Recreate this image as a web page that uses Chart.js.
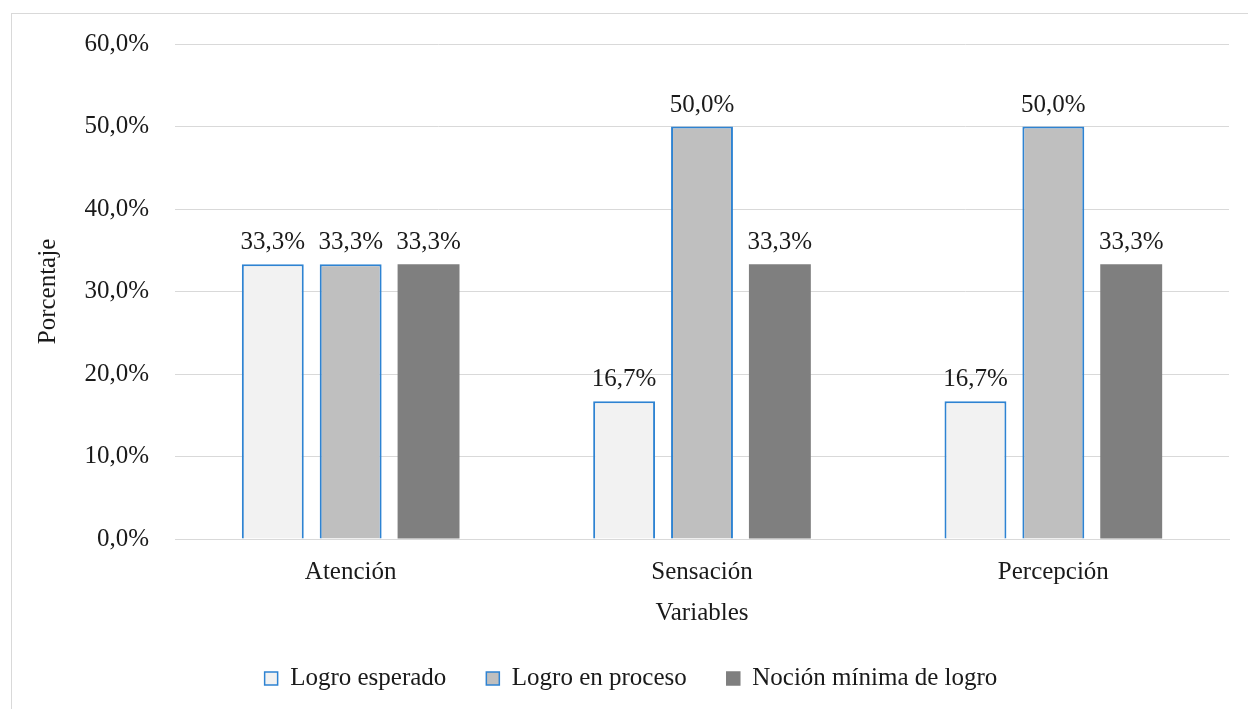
<!DOCTYPE html>
<html>
<head>
<meta charset="utf-8">
<script src="https://cdn.jsdelivr.net/npm/chart.js@4/dist/chart.umd.min.js"></script>
<style>
    html, body { margin: 0; padding: 0; background: #fff; }
    #wrap { width: 1248px; height: 709px; position: relative; }
</style>
</head>
<body>
<div id="wrap"><canvas id="barChart" width="1248" height="709"></canvas></div>
<script>
const categories = ['Atención', 'Sensación', 'Percepción'];
const seriesNames = ['Logro esperado', 'Logro en proceso', 'Noción mínima de logro'];
const logroEsperado = [33.3, 16.7, 16.7];
const logroProceso = [33.3, 50.0, 50.0];
const nocionMinima = [33.3, 33.3, 33.3];
const yTicks = [0, 10, 20, 30, 40, 50, 60];

const fillColors = ['#f2f2f2', '#bfbfbf', '#7f7f7f'];
const edgeColors = ['#2e83d2', '#2e83d2', '#7f7f7f'];
const serif = "'Liberation Serif', 'Times New Roman', serif";
const fontSize = 25;

const fmt = v => v.toFixed(1).replace('.', ',') + '%';

const frame = {
    id: 'frame',
    beforeDraw(chart) {
        const ctx = chart.ctx;
        ctx.save();
        ctx.fillStyle = '#fff';
        ctx.fillRect(0, 0, chart.width, chart.height);
        ctx.strokeStyle = '#d9d9d9';
        ctx.lineWidth = 1;
        ctx.strokeRect(11.5, 13.5, 1400, 900);
        ctx.restore();
    },
};

const valueLabels = {
    id: 'valueLabels',
    afterDatasetsDraw(chart) {
        const ctx = chart.ctx;
        ctx.save();
        ctx.font = fontSize + 'px ' + serif;
        ctx.fillStyle = '#1a1a1a';
        ctx.textAlign = 'center';
        ctx.textBaseline = 'bottom';
        chart.data.datasets.forEach((ds, i) => {
            chart.getDatasetMeta(i).data.forEach((bar, j) => {
                ctx.fillText(fmt(ds.data[j]), bar.x, bar.y - 9);
            });
        });
        ctx.restore();
    },
};

new Chart(document.getElementById('barChart'), {
    type: 'bar',
    data: {
        labels: categories,
        datasets: [logroEsperado, logroProceso, nocionMinima].map((vals, i) => ({
            label: seriesNames[i],
            data: vals,
            backgroundColor: fillColors[i],
            borderColor: edgeColors[i],
            borderWidth: i < 2 ? 2 : 0,
            categoryPercentage: 0.665,
            barPercentage: 0.795,
        })),
    },
    options: {
        responsive: false,
        animation: false,
        layout: {
            padding: { left: 33, right: 19, top: 44, bottom: 8 },
        },
        plugins: {
            legend: {
                position: 'bottom',
                labels: {
                    font: { family: serif, size: fontSize },
                    color: '#1a1a1a',
                    boxWidth: 13,
                    boxHeight: 13,
                    padding: 40,
                    generateLabels(chart) {
                        return chart.data.datasets.map((ds, i) => ({
                            text: ds.label,
                            fillStyle: fillColors[i],
                            strokeStyle: edgeColors[i],
                            lineWidth: 1.5,
                            datasetIndex: i,
                            fontColor: '#1a1a1a',
                        }));
                    },
                },
            },
            tooltip: { enabled: false },
        },
        scales: {
            x: {
                grid: { display: false },
                border: { color: '#d9d9d9' },
                ticks: { font: { family: serif, size: fontSize }, color: '#1a1a1a', padding: 10 },
                title: {
                    display: true,
                    text: 'Variables',
                    font: { family: serif, size: fontSize },
                    color: '#1a1a1a',
                    padding: { top: 1, bottom: -2 },
                },
            },
            y: {
                min: 0,
                max: 60,
                afterBuildTicks(axis) {
                    axis.ticks = yTicks.map(v => ({ value: v }));
                },
                afterFit(axis) {
                    axis.width = 142;
                },
                grid: { color: '#d9d9d9', drawTicks: false },
                border: { display: false },
                ticks: {
                    font: { family: serif, size: fontSize },
                    color: '#1a1a1a',
                    padding: 26,
                    callback: v => fmt(v),
                },
                title: {
                    display: true,
                    text: 'Porcentaje',
                    font: { family: serif, size: fontSize },
                    color: '#1a1a1a',
                    padding: 0,
                },
            },
        },
    },
    plugins: [frame, valueLabels],
});
</script>
</body>
</html>
